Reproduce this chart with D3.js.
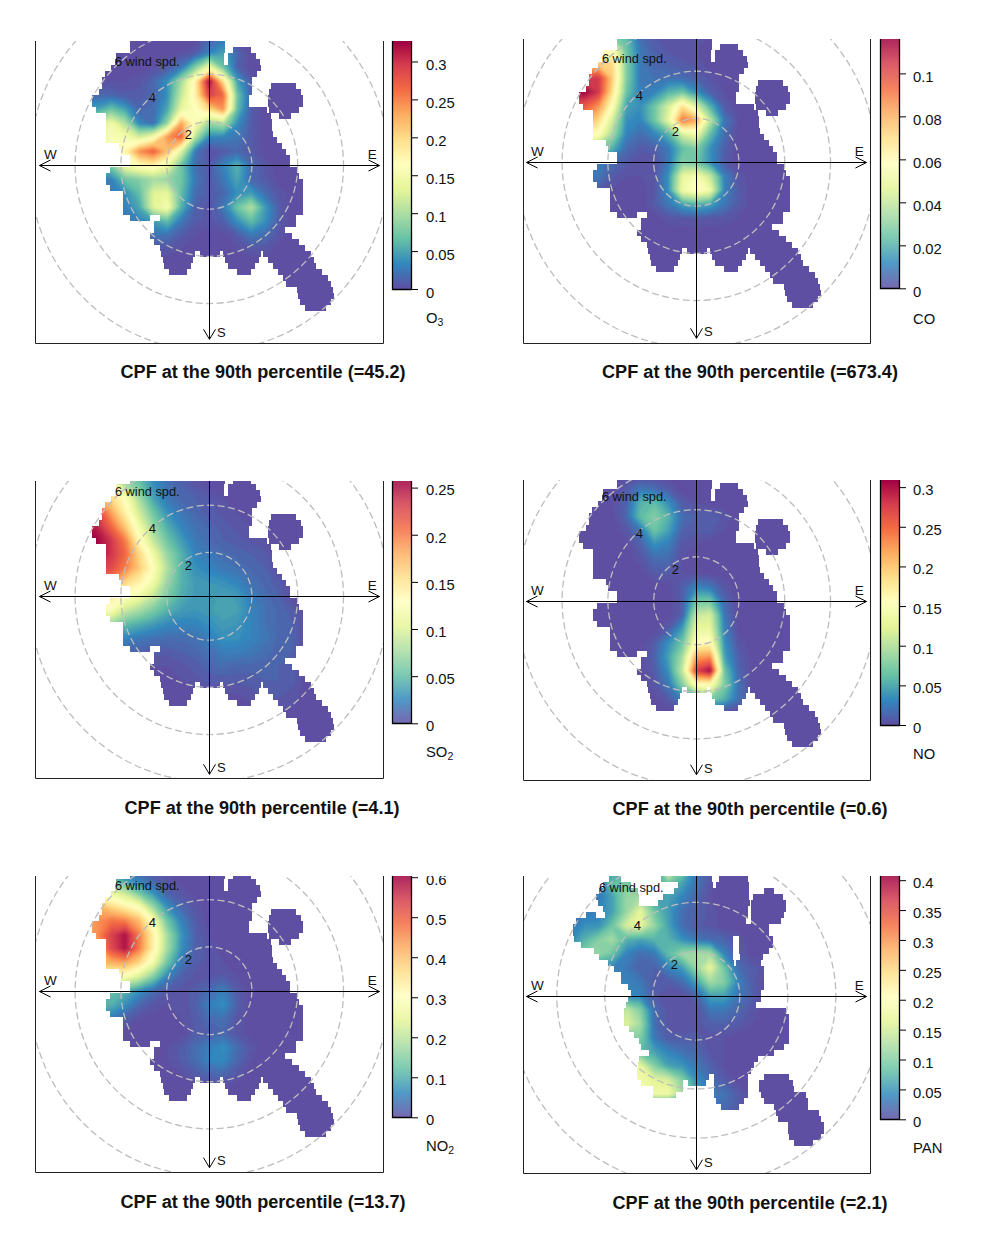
<!DOCTYPE html>
<html><head><meta charset="utf-8">
<script src="https://cdn.jsdelivr.net/npm/d3@7"></script>
<style>html,body{margin:0;background:#fff}svg{display:block}text{font-family:"Liberation Sans",Arial,sans-serif;fill:#111}</style>
</head><body><div id="c"></div>
<script>
// Values: percent of each panel's colour-scale maximum, rows north to south (14 px wind-space cells), omitted tail = 0
const o3Grid=[
[0,0,0,0,0,0,0,0,0,5,8],
[0,0,0,0,0,0,0,1,3,10,15,5],
[0,0,0,0,0,1,3,8,25,45,22,4],
[1,1,1,1,2,5,12,30,55,100,60,15,3],
[5,5,5,3,3,5,12,35,55,90,82,22,4],
[15,15,22,15,5,6,16,42,50,62,75,20,3],
[35,35,45,32,10,6,28,72,48,28,32,12,3],
[40,40,48,46,38,48,75,84,32,10,10,8,3],
[45,45,48,54,76,84,68,40,8,1,3,5,3],
[22,22,25,45,52,55,45,22,6,3,10,18,6,2],
[8,8,10,22,25,30,28,22,8,3,8,16,5,3],
[6,6,8,12,20,40,42,20,6,3,5,12,14,6,2],
[4,4,6,10,16,40,48,18,4,2,8,22,32,14,3],
[2,2,4,8,10,14,20,8,3,2,4,12,20,12,3],
[0,0,0,3,5,7,7,3,1,0,0,3,8,6,2],
[0,0,0,0,2,2,2,1,0,0,0,1,2,2]];
const coGrid=[
[15,20,25,25,20,6,3,1,1,1,1],
[40,45,50,50,22,8,4,2,1,1],
[60,62,65,62,25,8,5,4,3,2],
[85,90,92,65,25,8,7,7,6,4,2],
[100,100,92,60,22,9,10,18,22,12,4,1],
[85,85,75,50,15,12,22,38,60,40,18,3],
[75,75,62,38,12,10,22,42,80,72,34,8,1],
[60,55,50,30,10,6,10,18,38,45,20,6],
[35,30,25,18,6,3,4,8,20,25,12,4],
[8,8,8,6,3,1,1,8,25,22,12,3],
[8,8,8,3,1,1,2,12,42,48,35,10,2],
[3,3,3,1,0,0,2,12,45,52,45,10,3],
[0,0,0,0,0,0,3,8,15,18,15,8,3],
[0,0,0,0,0,0,0,2,2,3,2,2,1]];
const so2Grid=[
[25,25,25,25,18,10,6,3,2,1],
[50,50,50,30,22,12,7,4,2],
[70,70,62,50,30,15,8,5,4,3,1],
[90,90,72,55,37,22,12,8,5,3,2,1],
[100,95,82,65,45,28,17,10,7,5,3,2,1],
[100,100,92,78,52,35,22,14,8,6,4,3,2,1],
[100,100,92,82,62,45,28,18,10,8,6,5,4,3],
[90,90,88,78,65,50,32,18,12,10,8,7,5,4],
[75,75,75,62,55,45,28,18,14,13,12,10,7,5,3],
[58,58,58,50,45,35,24,17,14,14,15,14,9,6,4],
[48,48,48,36,30,24,18,14,13,14,16,15,10,7,5,3],
[28,28,28,20,17,14,11,10,10,12,14,13,10,7,5,4],
[12,12,12,10,8,7,6,6,7,9,12,12,10,8,5,4],
[6,6,6,5,4,3,3,4,5,7,9,9,8,6,5,4],
[0,0,0,0,2,1,1,2,3,5,6,5,5,5,4,3],
[0,0,0,0,0,0,0,1,2,3,3,3,3,4,4,3],
[0,0,0,0,0,0,0,0,0,1,1,1,2,3,3,2],
[0,0,0,0,0,0,0,0,0,0,0,0,0,1,1,1]];
const noGrid=[
[0,0,0,0,1],
[0,0,0,0,3,8,6,3],
[0,0,0,1,4,18,20,12,3,1],
[0,0,0,0,5,20,25,18,6,4,4,2],
[0,0,0,0,2,8,22,15,4,3,3,1],
[0,0,0,0,0,4,12,9,2,1],
[0,0,0,0,0,2,6,6,1],
[0,0,0,0,0,0,3,3,1],
[0,0,0,0,0,0,0,0,4,10,8,2],
[0,0,0,0,0,0,0,0,3,22,22,5],
[0,0,0,0,0,0,0,0,4,35,38,8],
[0,0,0,0,0,0,0,3,14,42,42,10],
[0,0,0,0,0,0,3,12,22,50,52,12,2],
[0,0,0,0,0,0,4,15,30,72,75,15,4],
[0,0,0,0,0,0,3,12,35,90,100,22,5],
[0,0,0,0,0,0,2,8,25,50,50,25,7],
[0,0,0,0,0,0,0,3,10,15,25,18,7,2]];
const no2Grid=[
[8,8,8,8,5,2],
[20,20,20,12,8,4,2],
[45,45,42,35,22,12,4,2],
[65,70,62,55,48,28,12,5,2],
[70,75,80,78,68,48,22,10,3],
[70,75,90,98,78,55,30,13,4,1],
[70,70,88,98,78,55,30,12,4,2],
[70,70,70,72,62,45,22,8,3,2,1],
[50,50,50,48,38,25,10,4,2,2,3,1],
[20,20,20,18,12,6,3,2,3,6,9,3],
[18,18,18,12,5,2,1,1,4,9,12,4],
[8,8,8,4,1,0,0,1,3,6,7,2],
[0,0,0,0,0,0,0,0,3,4,5,2],
[0,0,0,0,0,0,1,3,6,9,12,6,2],
[0,0,0,0,0,0,1,3,6,10,11,5,1],
[0,0,0,0,0,0,0,1,3,5,5,2]];
const panGrid=[
[15,15,15,15,10,8,10,45,25,8,3],
[10,10,10,20,25,15,15,22,15,7,2],
[8,8,8,15,28,30,15,15,10,5,1],
[6,8,10,15,28,42,22,14,6,4,2],
[8,12,12,22,38,42,28,15,6,3,2],
[10,18,25,30,18,15,18,18,12,8,6,5,2],
[20,25,28,22,10,6,8,20,28,30,30,10,3],
[10,10,10,10,8,4,4,10,14,28,42,22,6,3,2],
[10,10,10,10,10,8,3,3,6,15,30,25,10,3],
[10,10,10,10,10,10,3,1,1,5,15,15,8,4],
[20,20,20,20,35,25,6,2,1,1,8,8,5,2],
[30,30,30,30,40,30,6,2,1,2,4,4,3,1],
[20,20,20,20,25,25,8,3,3,3,2,1],
[20,20,20,20,20,20,15,10,7,5,2,1],
[45,45,45,45,45,42,25,15,13,8,4,1],
[45,45,45,45,45,45,40,38,25,12,6,3],
[45,45,45,45,45,45,45,45,30,15,10,7,3],
[0,0,0,0,0,0,0,0,0,0,8,6,3]];

// Footprint of valid cells: x spans (px from centre) for consecutive 6 px rows
const footprintMain=[
[[-79,16]],[[-79,16],[24,42]],[[-93,15],[19,47]],[[-94,15],[19,51]],[[-98,52]],[[-104,48]],[[-107,43]],
[[-107,43],[62,87]],[[-110,43],[60,92]],[[-117,40],[59,94]],[[-117,40],[59,94]],[[-113,58],[60,90]],
[[-103,62],[70,82]],[[-103,63]],[[-103,63]],[[-103,64]],[[-103,68]],[[-90,73]],[[-88,77]],[[-79,81]],[[-79,81]],
[[-99,88]],[[-103,90]],[[-103,94]],[[-99,94]],[[-86,94]],[[-86,94]],[[-86,94]],[[-86,94]],
[[-79,-59],[-49,87]],[[-55,87]],[[-55,76]],[[-59,83]],[[-55,90]],[[-49,96]],
[[-48,-14],[-9,11],[14,52],[54,102]],[[-46,-16],[16,50],[59,105]],[[-45,-18],[19,46],[64,107]],[[-40,-22],[28,42],[69,113]],
[[74,119]],[[77,122]],[[88,124]],[[89,125]],[[91,122]],[[96,117]]];
const footprintPan=[
[[-87,-75],[-35,16],[23,52]],[[-93,-65],[-18,17],[20,53]],[[-97,-58],[-22,53],[68,78]],[[-100,-57],[-33,53],[57,87]],
[[-98,-57],[-38,54],[55,90]],[[-93,52],[55,90]],[[-110,-100],[-91,52],[55,88]],[[-120,50],[55,85]],[[-123,73]],[[-123,73]],
[[-122,37],[43,77]],[[-115,37],[43,77]],[[-102,37],[43,73]],[[-97,37],[44,67]],[[-88,38],[40,65]],[[-82,68]],[[-75,68]],[[-75,68]],
[[-68,68]],[[-65,65]],[[-68,65]],[[-70,60]],[[-72,90]],[[-72,93]],[[-72,93]],[[-67,93]],[[-62,93]],[[-57,93]],[[-55,88]],[[-47,78]],
[[-57,62]],[[-58,58]],[[-59,55]],[[-59,13],[18,52],[68,93]],[[-55,-13],[-8,10],[18,52],[63,97]],[[-43,-13],[18,52],[63,98]],
[[-43,-20],[18,52],[65,110]],[[20,48],[68,112]],[[25,43],[78,112]],[[80,123]],[[82,125]],[[92,128]],[[92,128]],[[93,125]],[[98,117]]];

const ringSpeeds=[2,4,6,8];
const titles=["CPF at the 90th percentile (=45.2)","CPF at the 90th percentile (=673.4)","CPF at the 90th percentile (=4.1)","CPF at the 90th percentile (=0.6)","CPF at the 90th percentile (=13.7)","CPF at the 90th percentile (=2.1)"];
const pollutants=["O|3","CO","SO|2","NO","NO|2","PAN"];
const colourMax=[0.327,0.116,0.257,0.309,0.603,0.407];
const tickValues=[
[0,.05,.1,.15,.2,.25,.3],[0,.02,.04,.06,.08,.1],[0,.05,.1,.15,.2,.25],
[0,.05,.1,.15,.2,.25,.3],[0,.1,.2,.3,.4,.5,.6],[0,.05,.1,.15,.2,.25,.3,.35,.4]];
const tickLabelShift=[0,0,-.8,-.6,-.7,-.5];
const grids=[o3Grid,coGrid,so2Grid,noGrid,no2Grid,panGrid];

// Layout (pixels)
const layout=[
 {cx:209.3,cy:165.3,left:35.5,w:348,top:41,bottom:343,barBottom:289,titleX:263,titleY:372,labelY:318,fp:footprintMain,fy:-124,rx:[-3.2,180],ry:1.03,lab:[-62,-104,-57,-68,-21,-31],sDy:167,arrowDy:174},
 {cx:696.3,cy:162.3,left:523.5,w:347,top:39,bottom:343,barBottom:288.3,titleX:750,titleY:372,labelY:319,fp:footprintMain,fy:-124,rx:[-3.2,180],ry:1.03,lab:[-62,-104,-57,-67,-21,-31],sDy:169,arrowDy:176},
 {cx:209.3,cy:596.3,left:35.5,w:348,top:481,bottom:778,barBottom:723.3,titleX:262,titleY:808,labelY:752,fp:footprintMain,fy:-124,rx:[-3.2,180],ry:1.03,lab:[-62,-105,-57,-68,-21,-31],sDy:171,arrowDy:178},
 {cx:696.3,cy:600.7,left:523.5,w:347,top:480,bottom:780,barBottom:725,titleX:750,titleY:809,labelY:754,fp:footprintMain,fy:-124,rx:[-3.2,180],ry:1.03,lab:[-62,-104,-57,-67,-21,-31],sDy:168,arrowDy:174},
 {cx:209.3,cy:990.7,left:35.5,w:348,top:876,bottom:1172.3,barBottom:1117.3,titleX:263,titleY:1202,labelY:1146,fp:footprintMain,fy:-124,rx:[-3.2,180],ry:1.03,lab:[-62,-105,-57,-68,-21,-31],sDy:170,arrowDy:177},
 {cx:696.3,cy:995.7,left:523.5,w:347,top:876,bottom:1173.3,barBottom:1119.3,titleX:750,titleY:1203,labelY:1148,fp:footprintPan,fy:-120,rx:[-4.5,187.5],ry:1.02,lab:[-65,-108,-59,-70,-22,-31],sDy:167,arrowDy:174}
];
const COLS=19,ROWS=21,CELL=14;
const spectral=d3.piecewise(d3.interpolateRgb,d3.schemeSpectral[11].slice().reverse());
const colour=t=>spectral(Math.max(0,Math.min(1,t)));
const svg=d3.select("#c").append("svg").attr("width",985).attr("height",1255);
const defs=svg.append("defs");
const blur=defs.append("filter").attr("id","soft").attr("x","-5%").attr("y","-5%").attr("width","110%").attr("height","110%")
  .attr("color-interpolation-filters","sRGB");
blur.append("feGaussianBlur").attr("stdDeviation",1.2);

layout.forEach((L,i)=>{
  const g=svg.append("g");
  const left=L.left, right=left+L.w;
  const xs=d3.scaleLinear().domain([0.5,COLS-.5]).range([L.cx-9*CELL,L.cx+9*CELL]);
  const ys=d3.scaleLinear().domain([0.5,ROWS-.5]).range([L.cy-9*CELL,L.cy+11*CELL]);
  const val=d3.scaleLinear().domain([0,100]).range([0,1]);
  defs.append("clipPath").attr("id","box"+i).append("rect").attr("x",left).attr("y",L.top).attr("width",L.w).attr("height",L.bottom-L.top);
  const cp=defs.append("clipPath").attr("id","fp"+i);
  L.fp.forEach((row,k)=>row.forEach(s=>{
    cp.append("rect").attr("x",Math.round(L.cx+s[0])).attr("width",s[1]-s[0])
      .attr("y",Math.round(L.cy+L.fy)+k*6).attr("height",6);
  }));
  const boxed=g.append("g").attr("clip-path",`url(#box${i})`);
  const masked=boxed.append("g").attr("clip-path",`url(#fp${i})`);
  const heat=masked.append("g").attr("filter","url(#soft)");
  heat.append("rect").attr("x",left-20).attr("y",L.top-20).attr("width",390).attr("height",L.bottom-L.top+40).attr("fill",colour(0));
  const flat=[];
  for(let r=0;r<ROWS;r++){const row=grids[i][r]||[];for(let c=0;c<COLS;c++)flat.push(row[c]||0);}
  const path=d3.geoPath(d3.geoTransform({point(x,y){this.stream.point(xs(x),ys(y));}}));
  const contours=d3.contours().size([COLS,ROWS]).smooth(true).thresholds(d3.range(1,101,1.5))(flat);
  heat.selectAll("path").data(contours).join("path").attr("d",path).attr("fill",d=>colour(val(d.value)));
  const rScale=d3.scaleLinear().domain([0,8]).range(L.rx);
  boxed.selectAll("ellipse").data(ringSpeeds).join("ellipse")
    .attr("cx",L.cx).attr("cy",L.cy).attr("rx",d=>rScale(d)).attr("ry",d=>rScale(d)*L.ry)
    .attr("fill","none").attr("stroke","#bdbdbd").attr("stroke-width",1.3).attr("stroke-dasharray","7 3.5");
  g.append("path").attr("d",`M${left},${L.top}V${Math.round(L.bottom)+.5}H${right}V${L.top}`).attr("fill","none").attr("stroke","#222").attr("stroke-width",1);
  const axisTop=L.top, y0=Math.round(L.cy)+.5, x0=Math.round(L.cx)+.5, bot=L.cy+L.arrowDy;
  const a=g.append("g").attr("fill","none").attr("stroke","#000").attr("stroke-width",1);
  a.append("path").attr("d",`M${x0-170},${y0}H${x0+170}M${x0-159},${y0-5.5}L${x0-170},${y0}L${x0-159},${y0+5.5}M${x0+159},${y0-5.5}L${x0+170},${y0}L${x0+159},${y0+5.5}`);
  a.append("path").attr("d",`M${x0},${axisTop}V${bot}M${x0-6},${bot-10}L${x0},${bot}L${x0+6},${bot-10}`);
  const txt=(x,y,s,size,anchor)=>g.append("text").attr("x",x).attr("y",y).attr("font-size",size).attr("text-anchor",anchor||"middle").attr("dominant-baseline","central").text(s);
  txt(L.cx-159,L.cy-10.5,"W",13.5);
  txt(L.cx+163,L.cy-10.5,"E",13.5);
  txt(L.cx+12,L.sDy+L.cy,"S",13);
  txt(L.cx+L.lab[0],L.cy+L.lab[1],"6 wind spd.",12.8);
  txt(L.cx+L.lab[2],L.cy+L.lab[3],"4",13);
  txt(L.cx+L.lab[4],L.cy+L.lab[5],"2",13);
  g.append("text").attr("x",L.titleX).attr("y",L.titleY).attr("dominant-baseline","central").attr("text-anchor","middle")
    .attr("font-size",18).attr("font-weight","bold").attr("textLength",i==1?296:(i==0||i==4?285:275)).attr("lengthAdjust","spacingAndGlyphs").text(titles[i]);
  const barX=i%2? 880:392, barW=20;
  const ticks=tickValues[i];
  const cs=d3.scaleLinear().domain([0,colourMax[i]]).range([L.barBottom,L.top]);
  defs.append("clipPath").attr("id","bc"+i).append("rect").attr("x",barX).attr("y",L.top).attr("width",barW).attr("height",L.barBottom-L.top);
  const bar=g.append("g");
  const barFill=bar.append("g").attr("clip-path",`url(#bc${i})`);
  const steps=d3.range(0,Math.ceil(L.barBottom-L.top));
  barFill.selectAll("rect").data(steps).join("rect").attr("x",barX).attr("width",barW)
    .attr("y",d=>L.barBottom-d-1).attr("height",1.2).attr("fill",d=>colour(d/(L.barBottom-L.top)));
  bar.append("path").attr("d",`M${barX+.5},${L.top}V${Math.round(L.barBottom)+.5}H${barX+barW-.5}V${L.top}`).attr("fill","none").attr("stroke","#000").attr("stroke-width",1.3);
  const ax=g.append("g").attr("transform",`translate(${barX+barW},0)`)
     .call(d3.axisRight(cs).tickValues(ticks).tickSize(6).tickPadding(i%2?7:8).tickFormat(d=>String(d)));
  ax.select(".domain").remove();
  ax.selectAll("text").attr("font-size",14.8).attr("font-family",'"Liberation Sans",Arial,sans-serif').attr("dy","0.55em").attr("fill","#111")
    .attr("y",tickLabelShift[i]);
  if(i==4){ defs.append("clipPath").attr("id","top4").append("rect").attr("x",0).attr("y",L.top).attr("width",60).attr("height",400);
    ax.attr("clip-path","url(#top4)"); }
  const parts=pollutants[i].split("|");
  const lab=g.append("text").attr("x",barX+barW+14-(i%2?1:0)).attr("y",L.labelY).attr("dominant-baseline","central").attr("font-size",14.8).text(parts[0]);
  if(parts[1]) lab.append("tspan").attr("font-size",10.5).attr("dy",4).text(parts[1]);
});
</script></body></html>
